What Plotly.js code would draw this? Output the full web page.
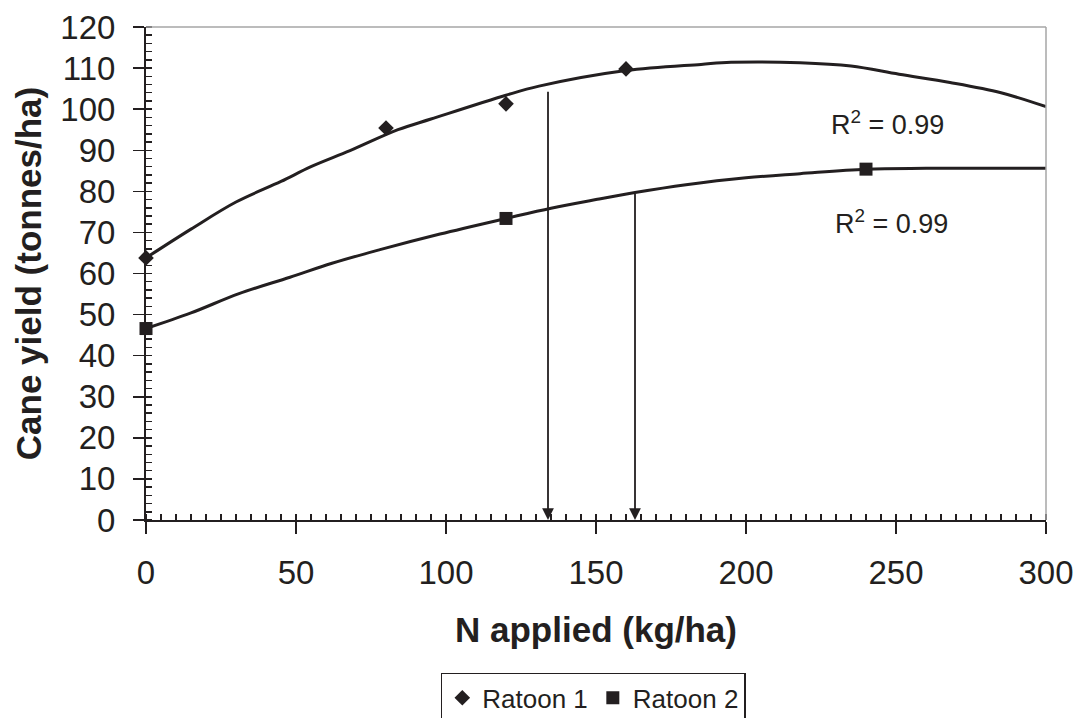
<!DOCTYPE html>
<html>
<head>
<meta charset="utf-8">
<script src="https://cdn.plot.ly/plotly-3.0.1.min.js"></script>
<style>html,body{margin:0;padding:0;background:#fff;}#chart{width:1080px;height:718px;}</style>
</head>
<body>
<div id="chart"></div>
<script>
// Observed data points
var ratoon1X = [0, 80, 120, 160];
var ratoon1Y = [63.8, 95.4, 101.3, 109.8];
var ratoon2X = [0, 120, 240];
var ratoon2Y = [46.6, 73.4, 85.4];

// Fitted trend curves
var fit1X = [0, 15, 30, 45, 55, 68, 84, 95, 120, 131, 160, 185, 195, 218, 235, 251, 268, 285, 300];
var fit1Y = [63.8, 70.8, 77.4, 82.4, 86.0, 89.9, 95.0, 97.6, 103.4, 105.6, 109.4, 110.9, 111.4, 111.3, 110.5, 108.5, 106.5, 104.0, 100.6];
var fit2X = [0, 15, 31, 48, 62, 78, 98, 120, 135, 150, 163, 180, 200, 218, 240, 260, 300];
var fit2Y = [46.6, 50.4, 55.1, 59.1, 62.5, 65.8, 69.6, 73.4, 75.9, 78.0, 79.7, 81.6, 83.3, 84.3, 85.4, 85.6, 85.6];

// Arrows marking optimum N rates
var arrowX = [134, 163];
var arrowTopY = [104.6, 79.7];

// R² labels
var r2Text = ["R<sup>2</sup> = 0.99", "R<sup>2</sup> = 0.99"];
var r2X = [247.3, 248.6];
var r2Y = [96.7, 72.5];

var ink = '#231f20';
var fontFam = '"Liberation Sans", Arial, Helvetica, sans-serif';

var traces = [
  {x: fit1X, y: fit1Y, mode: 'lines', line: {color: ink, width: 3, shape: 'spline'}, showlegend: false, hoverinfo: 'skip', cliponaxis: false},
  {x: fit2X, y: fit2Y, mode: 'lines', line: {color: ink, width: 3, shape: 'spline'}, showlegend: false, hoverinfo: 'skip', cliponaxis: false},
  {x: ratoon1X, y: ratoon1Y, mode: 'markers', name: 'Ratoon 1', marker: {symbol: 'diamond', size: 12, color: ink}, cliponaxis: false},
  {x: ratoon2X, y: ratoon2Y, mode: 'markers', name: 'Ratoon 2', marker: {symbol: 'square', size: 13, color: ink}, cliponaxis: false}
];

var annotations = [];
for (var i = 0; i < arrowX.length; i++) {
  annotations.push({
    x: arrowX[i], y: 0, ax: arrowX[i], ay: arrowTopY[i],
    xref: 'x', yref: 'y', axref: 'x', ayref: 'y',
    showarrow: true, arrowhead: 2, arrowsize: 1.3, arrowwidth: 1.8, arrowcolor: ink, text: ''
  });
}
for (var j = 0; j < r2Text.length; j++) {
  annotations.push({
    x: r2X[j], y: r2Y[j], xref: 'x', yref: 'y', text: r2Text[j], showarrow: false,
    font: {family: fontFam, size: 27, color: ink}
  });
}

var layout = {
  width: 1080, height: 718,
  margin: {l: 146, r: 34, t: 27, b: 198, autoexpand: false},
  paper_bgcolor: '#fff', plot_bgcolor: '#fff',
  font: {family: fontFam, color: ink},
  showlegend: true,
  legend: {
    orientation: 'h', x: 0.497, xanchor: 'center', y: -0.31, yanchor: 'top',
    font: {family: fontFam, size: 26, color: ink},
    bordercolor: ink, borderwidth: 1.5, bgcolor: '#fff'
  },
  xaxis: {
    range: [0, 300], dtick: 50, tick0: 0, showgrid: false, zeroline: false,
    showline: true, linecolor: ink, linewidth: 2,
    ticks: 'outside', ticklen: 12, tickwidth: 1.5, tickcolor: ink,
    minor: {dtick: 5, ticks: 'inside', ticklen: 6, tickwidth: 1.5, tickcolor: ink, showgrid: false},
    tickfont: {family: fontFam, size: 33, color: ink},
    ticklabelstandoff: 10,
    title: {text: '<b>N applied (kg/ha)</b>', font: {family: fontFam, size: 35, color: ink}, standoff: 28}
  },
  yaxis: {
    range: [0, 120], dtick: 10, tick0: 0, showgrid: false, zeroline: false,
    showline: true, linecolor: ink, linewidth: 2,
    ticks: 'outside', ticklen: 11, tickwidth: 1.5, tickcolor: ink,
    minor: {dtick: 2, ticks: 'inside', ticklen: 6, tickwidth: 1.5, tickcolor: ink, showgrid: false},
    tickfont: {family: fontFam, size: 33, color: ink},
    ticklabelstandoff: 11,
    title: {text: '<b>Cane yield (tonnes/ha)</b>', font: {family: fontFam, size: 35, color: ink}, standoff: 8}
  },
  shapes: [
    {type: 'line', xref: 'paper', yref: 'paper', x0: 0, x1: 1, y0: 1, y1: 1, line: {color: '#a6a6a6', width: 1.5}},
    {type: 'line', xref: 'paper', yref: 'paper', x0: 1, x1: 1, y0: 0, y1: 1, line: {color: '#a6a6a6', width: 1.5}}
  ],
  annotations: annotations
};

Plotly.newPlot('chart', traces, layout, {displayModeBar: false, staticPlot: true});
</script>
</body>
</html>
